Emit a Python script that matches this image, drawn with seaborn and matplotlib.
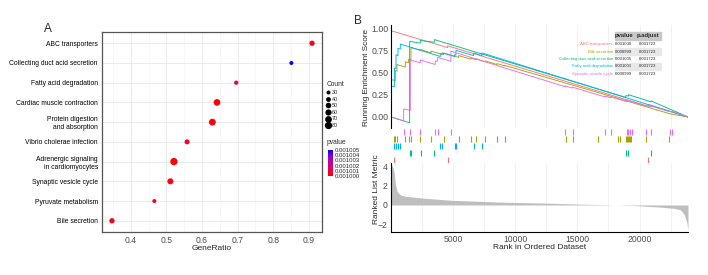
import numpy as np
import pandas as pd
import matplotlib
matplotlib.use("Agg")
import matplotlib.pyplot as plt
import seaborn as sns
from matplotlib.colors import LinearSegmentedColormap, Normalize
from matplotlib.cm import ScalarMappable
from matplotlib.lines import Line2D
from matplotlib.patches import Rectangle

# ---------------- Panel A data ----------------
terms = ["ABC transporters", "Collecting duct acid secretion", "Fatty acid degradation",
         "Cardiac muscle contraction", "Protein digestion\nand absorption",
         "Vibrio cholerae infection", "Adrenergic signaling\nin cardiomyocytes",
         "Synaptic vesicle cycle", "Pyruvate metabolism", "Bile secretion"]
gene_ratio = [0.909, 0.851, 0.696, 0.642, 0.629, 0.558, 0.521, 0.511, 0.466, 0.347]
counts = [46, 30, 33, 69, 71, 42, 88, 57, 27, 46]
pvalues = [0.0010004, 0.001005, 0.0010012, 0.0010000, 0.0010001,
           0.0010006, 0.0010000, 0.0010002, 0.0010008, 0.0010004]
count_ticks = [30, 40, 50, 60, 70, 80]
pvalue_ticks = [0.001005, 0.001004, 0.001003, 0.001002, 0.001001, 0.001000]
pvalue_tick_labels = ["0.001005", "0.001004", "0.001003", "0.001002", "0.001001", "0.001000"]
ratio_ticks = [0.4, 0.5, 0.6, 0.7, 0.8, 0.9]

# ---------------- Panel B data ----------------
set_names = ["ABC transporters", "Bile secretion", "Collecting duct acid secretion",
             "Fatty acid degradation", "Synaptic vesicle cycle"]
set_colors = ["#F8766D", "#A3A500", "#00BF7D", "#00B0F6", "#E76BF3"]
set_pvalue = ["0.001000", "0.000999", "0.001005", "0.001001", "0.000999"]
set_padjust = ["0.001723", "0.001723", "0.001723", "0.001723", "0.001723"]

es_abc_rank = [0, 1, 4556, 4557, 20716, 20717, 23900]
es_abc_val = [0.0, 0.97, 0.78, 0.80, 0.12, 0.14, 0.0]

es_bile_rank = [0, 1, 348, 349, 482, 483, 1152, 1153, 1420, 1421, 1608, 1609, 2358, 2359,
                3216, 3217, 4234, 4235, 5440, 5441, 6432, 6433, 6834, 6835, 7584, 7585,
                8522, 8523, 9139, 9140, 16294, 22458, 23900]
es_bile_val = [0.0, 0.42, 0.41, 0.52, 0.515, 0.59, 0.56, 0.62, 0.61, 0.65, 0.645, 0.78, 0.75, 0.76,
               0.72, 0.74, 0.70, 0.72, 0.67, 0.69, 0.65, 0.66, 0.645, 0.655, 0.62, 0.63,
               0.59, 0.60, 0.575, 0.58, 0.29, 0.035, 0.0]

es_coll_rank = [0, 1500, 1501, 2358, 2359, 3484, 3485, 18894, 18895, 19108, 19109,
                20930, 20931, 23900]
es_coll_val = [0.0, -0.065, 0.85, 0.83, 0.86, 0.84, 0.87, 0.22, 0.24, 0.235, 0.25,
               0.17, 0.18, 0.0]

es_fatty_rank = [0, 1, 268, 269, 402, 403, 563, 564, 750, 751, 3966, 3967, 4100, 4101,
                 5119, 5120, 5226, 5227, 6646, 6647, 7316, 7317, 23900]
es_fatty_val = [0.0, 0.35, 0.34, 0.55, 0.545, 0.70, 0.69, 0.77, 0.765, 0.82, 0.68, 0.71, 0.705, 0.72,
                0.68, 0.70, 0.695, 0.75, 0.69, 0.72, 0.69, 0.72, 0.0]

es_syn_rank = [0, 1018, 1019, 1554, 1555, 2358, 2359, 3564, 3565, 3752, 3753, 4824, 4825,
               14016, 14017, 14606, 14607, 17232, 17233, 17688, 17689, 18974, 18975,
               20529, 20530, 20904, 20905, 22458, 22459, 22646, 22647, 23900]
es_syn_val = [0.0, -0.045, 0.09, 0.075, 0.64, 0.61, 0.64, 0.59, 0.63, 0.625, 0.67, 0.625, 0.74,
              0.34, 0.35, 0.325, 0.335, 0.225, 0.235, 0.216, 0.226, 0.172, 0.19,
              0.125, 0.132, 0.116, 0.123, 0.058, 0.064, 0.056, 0.062, 0.0]

hits_syn = [1018, 1554, 2358, 3564, 3752, 4824, 14016, 14606, 17232, 17688, 18974, 19108,
            19242, 19376, 20529, 20904, 22458, 22646]
hits_bile = [214, 348, 482, 1152, 1420, 1608, 2358, 3216, 4234, 5440, 6432, 6834, 7584,
             8522, 9139, 14070, 14606, 16696, 18304, 18438, 18894, 18974, 19054, 19134,
             19215, 19296, 20529, 22378]
hits_fatty = [268, 402, 563, 750, 3966, 4100, 5119, 5226, 6646, 7316]
hits_coll = [1500, 1608, 2412, 3484, 18894, 19108, 20930]
hits_abc = [214, 4556, 20716]

metric_rank = [0, 150, 250, 360, 490, 760, 1160, 2770, 4920, 9200, 12300, 15000, 17500,
               19500, 21660, 22800, 23300, 23600, 23800, 23900]
metric_val = [4.3, 3.9, 3.4, 2.1, 1.4, 1.04, 0.9, 0.69, 0.48, 0.28, 0.2, 0.1, 0.02,
              -0.05, -0.22, -0.35, -0.5, -1.0, -1.8, -2.6]
rank_ticks = [5000, 10000, 15000, 20000]
es_ticks = [0.0, 0.25, 0.5, 0.75, 1.0]
metric_ticks = [-2, 0, 2, 4]

# ---------------- Figure ----------------
sns.set_style("white")
plt.rcParams["font.family"] = ["Liberation Sans", "DejaVu Sans"]
W, H = 708, 275
fig = plt.figure(figsize=(W / 100, H / 100), dpi=100)


def rect(x0, y0, x1, y1):
    return [x0 / W, 1 - y1 / H, (x1 - x0) / W, (y1 - y0) / H]


def fx(x):
    return x / W


def fy(y):
    return 1 - y / H


# ---------- Panel A ----------
cmap = LinearSegmentedColormap.from_list("rb", ["#FF0000", "#E8005A", "#C5009A", "#9200D2", "#0000FF"])
pnorm = Normalize(vmin=0.001000, vmax=0.001005)
smin, smax = 8.3, 27.6

dfA = pd.DataFrame({"term": terms, "GeneRatio": gene_ratio, "Count": counts, "pvalue": pvalues})
axA = fig.add_axes(rect(102, 32, 322, 232))
sns.scatterplot(data=dfA, x="GeneRatio", y="term", hue="pvalue", palette=cmap, hue_norm=pnorm,
                size="Count", sizes=(smin, smax), size_norm=(30, 80), linewidth=0,
                legend=False, ax=axA, zorder=3)
axA.set_xlim(0.319, 0.937)
axA.set_ylim(9.57, -0.57)
axA.set_xticks(ratio_ticks)
axA.set_xticks([0.35, 0.45, 0.55, 0.65, 0.75, 0.85], minor=True)
axA.set_xticklabels([f"{t:.1f}" for t in ratio_ticks])
axA.grid(True, which="major", color="#EBEBEB", lw=0.7)
axA.grid(True, which="minor", axis="x", color="#F4F4F4", lw=0.5)
axA.set_axisbelow(True)
for s in axA.spines.values():
    s.set_color("#555555")
    s.set_linewidth(0.9)
axA.tick_params(axis="both", length=2, width=0.6, color="#333333", pad=1)
axA.tick_params(axis="x", labelsize=6.2, labelcolor="#4D4D4D")
axA.tick_params(axis="y", labelsize=4.9, labelcolor="black")
axA.tick_params(axis="x", which="minor", length=0)
for lab in axA.get_yticklabels():
    lab.set_multialignment("right")
axA.set_xlabel("GeneRatio", fontsize=6, labelpad=0)
axA.set_ylabel("")
fig.text(fx(48), fy(29), "A", fontsize=8.5, ha="center", va="center")

# Count legend
fig.text(fx(327), fy(85), "Count", fontsize=4.8, ha="left", va="center")
handles = [Line2D([], [], marker="o", linestyle="", color="black", markeredgewidth=0,
                  markersize=np.sqrt(smin + (c - 30) / 50 * (smax - smin))) for c in count_ticks]
fig.legend(handles, [str(c) for c in count_ticks], loc="upper left",
           bbox_to_anchor=(fx(326), fy(90)), frameon=False, fontsize=3.9,
           handlelength=0.9, handletextpad=0.2, labelspacing=0.3, borderpad=0,
           borderaxespad=0)

# pvalue colorbar
fig.text(fx(327), fy(142), "pvalue", fontsize=4.8, ha="left", va="center")
cax = fig.add_axes(rect(328, 150, 333, 176))
cb = fig.colorbar(ScalarMappable(norm=pnorm, cmap=cmap), cax=cax)
cb.outline.set_visible(False)
cb.set_ticks(pvalue_ticks)
cb.set_ticklabels(pvalue_tick_labels)
cax.tick_params(labelsize=4.3, length=1, width=0.4, color="white", pad=0.5)

# ---------- Panel B ----------
es_sets = [(es_abc_rank, es_abc_val), (es_bile_rank, es_bile_val), (es_coll_rank, es_coll_val),
           (es_fatty_rank, es_fatty_val), (es_syn_rank, es_syn_val)]
rows = []
for name, (rk, vv) in zip(set_names, es_sets):
    for i, (r, v) in enumerate(zip(rk, vv)):
        rows.append({"Description": name, "rank": r, "es": v, "order": i})
dfB = pd.DataFrame(rows)

grid_minor = [2500, 7500, 12500, 17500, 22500]
N = 23900

axE = fig.add_axes(rect(391, 25, 688, 128))
sns.lineplot(data=dfB, x="rank", y="es", hue="Description", palette=dict(zip(set_names, set_colors)),
             estimator=None, sort=False, linewidth=0.65, legend=False, ax=axE)
axE.set_xlim(0, N)
axE.set_ylim(-0.124, 1.034)
axE.set_xticks(rank_ticks)
axE.set_xticks(grid_minor, minor=True)
axE.set_xticklabels([])
axE.tick_params(axis="x", which="both", length=0)
axE.grid(True, axis="x", which="both", color="#EBEBEB", lw=0.5)
axE.set_axisbelow(True)
axE.set_yticks(es_ticks)
axE.set_yticklabels([f"{t:.2f}" for t in es_ticks])
axE.tick_params(axis="y", labelsize=6.3, labelcolor="#4D4D4D", length=1.2, width=0.6, pad=0.4)
for k in ["top", "right", "bottom"]:
    axE.spines[k].set_visible(False)
axE.spines["left"].set_color("black")
axE.spines["left"].set_linewidth(0.8)
axE.set_xlabel("")
axE.set_ylabel("")
fig.text(fx(366.5), fy(77), "Running Enrichment Score", fontsize=5.9, rotation=90, ha="center", va="center")
fig.text(fx(358), fy(21), "B", fontsize=8.5, ha="center", va="center")

# table
col1_x, col2_x = 623.5, 648
row_y = [44.3, 51.6, 58.9, 66.2, 73.5]
fig.patches.append(Rectangle((fx(615), fy(40)), 46 / W, 8 / H, transform=fig.transFigure,
                             color="#C8C8C8", zorder=1))
for i in [1, 3]:
    fig.patches.append(Rectangle((fx(615), fy(row_y[i] + 3.5)), 46 / W, 7 / H,
                                 transform=fig.transFigure, color="#E8E8E8", zorder=1))
fig.text(fx(col1_x), fy(36), "pvalue", fontsize=4.2, fontweight="bold", ha="center", va="center")
fig.text(fx(col2_x), fy(36), "p.adjust", fontsize=4.2, fontweight="bold", ha="center", va="center")
for i in range(5):
    fig.text(fx(613), fy(row_y[i]), set_names[i], fontsize=3.1, color=set_colors[i], ha="right", va="center")
    fig.text(fx(col1_x), fy(row_y[i]), set_pvalue[i], fontsize=3.1, ha="center", va="center")
    fig.text(fx(col2_x), fy(row_y[i]), set_padjust[i], fontsize=3.1, ha="center", va="center")

# rug
axR = fig.add_axes(rect(391, 128, 688, 163))
rug_order = [(hits_syn, 4), (hits_bile, 1), (hits_fatty, 3), (hits_coll, 2), (hits_abc, 0)]
for k, (hits, ci) in enumerate(rug_order):
    top = 5 - k
    axR.vlines(hits, top - 0.93, top - 0.12, color=set_colors[ci], lw=0.8)
axR.set_xlim(0, N)
axR.set_ylim(0, 5)
axR.axis("off")

# ranked list metric
axM = fig.add_axes(rect(391, 163, 688, 232))
axM.fill_between(metric_rank, 0, metric_val, color="#BEBEBE", lw=0)
axM.set_xlim(0, N)
axM.set_ylim(-2.8, 4.35)
axM.set_xticks(rank_ticks)
axM.set_xticks(grid_minor, minor=True)
axM.set_xticklabels([str(t) for t in rank_ticks])
axM.set_yticks(metric_ticks)
axM.grid(True, axis="x", which="both", color="#EBEBEB", lw=0.5)
axM.set_axisbelow(True)
axM.tick_params(axis="both", labelsize=6.2, labelcolor="#4D4D4D", length=1.5, width=0.6, pad=0.8)
axM.tick_params(axis="x", which="minor", length=0)
for k in ["top", "right"]:
    axM.spines[k].set_visible(False)
for k in ["left", "bottom"]:
    axM.spines[k].set_color("black")
    axM.spines[k].set_linewidth(0.8)
axM.set_xlabel("Rank in Ordered Dataset", fontsize=6, labelpad=0)
fig.text(fx(376.5), fy(189), "Ranked List Metric", fontsize=6, rotation=90, ha="center", va="center")

fig.savefig("out.png", dpi=100)
